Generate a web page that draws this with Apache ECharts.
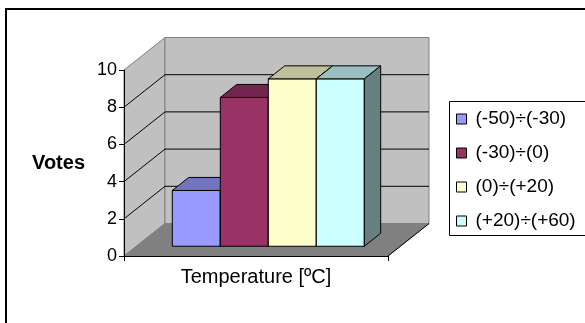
<!DOCTYPE html>
<html>
<head>
<meta charset="utf-8">
<script src="https://cdn.jsdelivr.net/npm/echarts@6/dist/echarts.min.js"></script>
<style>
  html, body { margin: 0; padding: 0; background: #fff; }
  #chart { width: 585px; height: 323px; }
</style>
</head>
<body>
<div id="chart"></div>
<script>
// Votes per temperature range, drawn as 3D-style columns
const categories = ['Temperature [ºC]'];
const seriesNames = ['(-50)÷(-30)', '(-30)÷(0)', '(0)÷(+20)', '(+20)÷(+60)'];
const votes = [3, 8, 9, 9];
const yTicks = [0, 2, 4, 6, 8, 10];

const seriesColors = ['#9999FF', '#993366', '#FFFFCC', '#CCFFFF'];
const FONT = '"Liberation Sans", Arial, sans-serif';

// oblique depth of the plot box (pixels) and where columns sit inside it
const DEPTH_X = 41, DEPTH_Y = -32.5;
const BAR_D0 = 0.3, BAR_D1 = 0.7;
const GAP_WIDTH = 1.5;

function shade(hex, k) {
  const n = parseInt(hex.slice(1), 16);
  const r = Math.round(((n >> 16) & 255) * k);
  const g = Math.round(((n >> 8) & 255) * k);
  const b = Math.round((n & 255) * k);
  return 'rgb(' + r + ',' + g + ',' + b + ')';
}

// walls, floor and gridlines of the box
function renderRoom(params, api) {
  const c = api.coord([0, 0]);
  const band = api.size([1, 0])[0];
  const xL = c[0] - band / 2, xR = c[0] + band / 2, y0 = c[1];
  const yTop = api.coord([0, yTicks[yTicks.length - 1]])[1];
  const children = [];
  children.push({
    type: 'polygon',
    shape: { points: [[xL, y0], [xL, yTop], [xL + DEPTH_X, yTop + DEPTH_Y], [xL + DEPTH_X, y0 + DEPTH_Y]] },
    style: { fill: '#C0C0C0', stroke: '#808080', lineWidth: 1 }
  });
  children.push({
    type: 'polygon',
    shape: { points: [[xL + DEPTH_X, y0 + DEPTH_Y], [xL + DEPTH_X, yTop + DEPTH_Y], [xR + DEPTH_X, yTop + DEPTH_Y], [xR + DEPTH_X, y0 + DEPTH_Y]] },
    style: { fill: '#C0C0C0', stroke: '#808080', lineWidth: 1 }
  });
  // gridlines: across the side wall and the back wall
  yTicks.forEach(function (t) {
    if (t === 0 || t === yTicks[yTicks.length - 1]) return;
    const y = api.coord([0, t])[1];
    children.push({
      type: 'polyline',
      shape: { points: [[xL, y], [xL + DEPTH_X, y + DEPTH_Y], [xR + DEPTH_X, y + DEPTH_Y]] },
      style: { fill: null, stroke: '#000', lineWidth: 1 }
    });
  });
  children.push({
    type: 'polygon',
    shape: { points: [[xL, y0], [xR, y0], [xR + DEPTH_X, y0 + DEPTH_Y], [xL + DEPTH_X, y0 + DEPTH_Y]] },
    style: { fill: '#808080', stroke: '#808080', lineWidth: 1 }
  });
  children.push({
    type: 'polyline',
    shape: { points: [[xR, y0], [xR + DEPTH_X, y0 + DEPTH_Y]] },
    style: { fill: null, stroke: '#000', lineWidth: 1 }
  });
  return { type: 'group', children: children };
}

function makeBarRenderer(idx) {
  return function (params, api) {
    const cat = api.value(0), v = api.value(1);
    const base = api.coord([cat, 0]);
    const top = api.coord([cat, v]);
    const band = api.size([1, 0])[0];
    const w = band / (votes.length + GAP_WIDTH);
    const x0 = base[0] - band / 2 + (GAP_WIDTH / 2) * w + idx * w;
    const x1 = x0 + w;
    const fx = BAR_D0 * DEPTH_X, fy = BAR_D0 * DEPTH_Y;
    const bx = BAR_D1 * DEPTH_X, by = BAR_D1 * DEPTH_Y;
    const col = seriesColors[idx];
    const edge = { stroke: '#000', lineWidth: 1, lineJoin: 'miter' };
    return {
      type: 'group',
      children: [
        {
          type: 'polygon',
          shape: { points: [[x0 + fx, base[1] + fy], [x1 + fx, base[1] + fy], [x1 + fx, top[1] + fy], [x0 + fx, top[1] + fy]] },
          style: Object.assign({ fill: col }, edge)
        },
        {
          type: 'polygon',
          shape: { points: [[x0 + fx, top[1] + fy], [x1 + fx, top[1] + fy], [x1 + bx, top[1] + by], [x0 + bx, top[1] + by]] },
          style: Object.assign({ fill: shade(col, 0.75) }, edge)
        },
        {
          type: 'polygon',
          shape: { points: [[x1 + fx, base[1] + fy], [x1 + bx, base[1] + by], [x1 + bx, top[1] + by], [x1 + fx, top[1] + fy]] },
          style: Object.assign({ fill: shade(col, 0.5) }, edge)
        }
      ]
    };
  };
}

const series = [{
  type: 'custom',
  name: 'room',
  renderItem: renderRoom,
  data: [[0, 0]],
  encode: { x: 0, y: 1 },
  silent: true,
  z: 1
}];
seriesNames.forEach(function (name, i) {
  series.push({
    type: 'custom',
    name: name,
    renderItem: makeBarRenderer(i),
    data: [[0, votes[i]]],
    encode: { x: 0, y: 1 },
    itemStyle: { color: seriesColors[i] },
    z: 3
  });
});

const chart = echarts.init(document.getElementById('chart'), null, { renderer: 'canvas' });
chart.setOption({
  animation: false,
  backgroundColor: '#fff',
  graphic: [
    {
      // outer chart frame (runs past the right and bottom edges)
      type: 'rect',
      shape: { x: 6, y: 9, width: 620, height: 340 },
      style: { fill: null, stroke: '#000', lineWidth: 2 },
      z: 0
    },
    {
      // legend frame (runs past the right edge)
      type: 'rect',
      shape: { x: 449.5, y: 101.5, width: 200, height: 134 },
      style: { fill: '#fff', stroke: '#000', lineWidth: 1 },
      z: 0
    }
  ],
  grid: { left: 124, top: 70, width: 264, height: 186 },
  xAxis: {
    type: 'category',
    data: categories,
    z: 5,
    axisLine: { lineStyle: { color: '#000', width: 1 } },
    axisTick: { show: true, length: 5, lineStyle: { color: '#000' } },
    axisLabel: { color: '#000', fontFamily: FONT, fontSize: 20, margin: 11 },
    splitLine: { show: false }
  },
  yAxis: {
    type: 'value',
    min: 0,
    max: 10,
    interval: 2,
    z: 5,
    name: 'Votes',
    nameLocation: 'middle',
    nameRotate: 0,
    nameGap: 39,
    nameTextStyle: { color: '#000', fontFamily: FONT, fontSize: 20, fontWeight: 'bold', align: 'right', verticalAlign: 'middle' },
    axisLine: { show: true, lineStyle: { color: '#000', width: 1 } },
    axisTick: { show: true, length: 5, lineStyle: { color: '#000' } },
    axisLabel: { color: '#000', fontFamily: FONT, fontSize: 18, margin: 7 },
    splitLine: { show: false }
  },
  legend: {
    data: seriesNames,
    orient: 'vertical',
    left: 449,
    top: 101,
    padding: [8, 4, 5, 7],
    itemGap: 14,
    itemWidth: 10,
    itemHeight: 10,
    icon: 'rect',
    borderWidth: 0,
    itemStyle: { borderColor: '#000', borderWidth: 1 },
    textStyle: { color: '#000', fontFamily: FONT, fontSize: 19, lineHeight: 20, padding: [0, 0, 0, 4] }
  },
  series: series
});
</script>
</body>
</html>
